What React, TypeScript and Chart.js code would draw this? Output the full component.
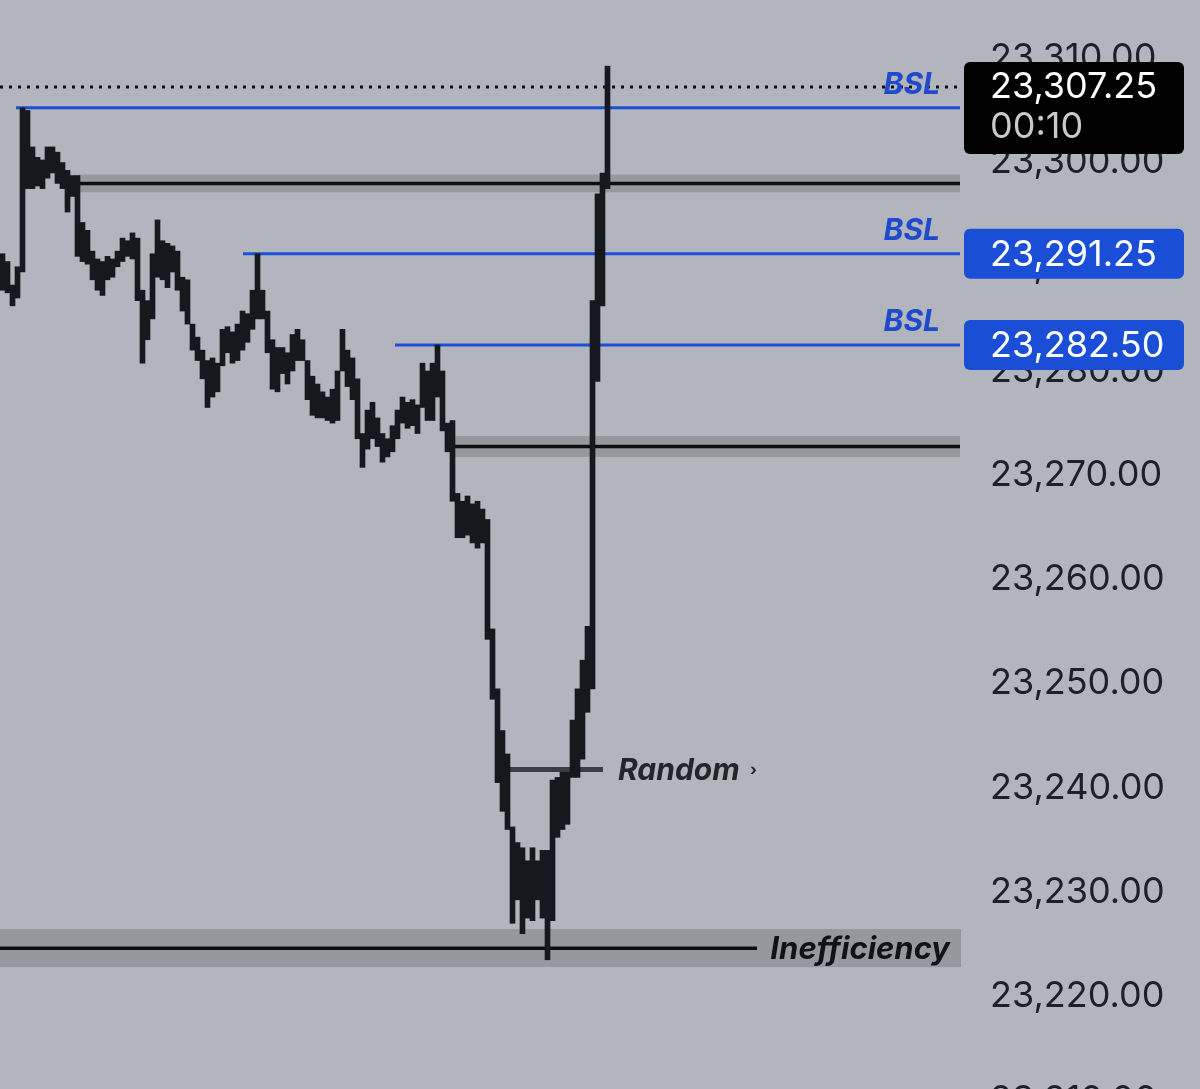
import React, { useEffect, useRef } from 'react';
import { Chart, registerables } from 'chart.js';

Chart.register(...registerables);

// ---------- data ----------
const BAR_COUNT = 192; // slots across the plot (price path fills the first ones)

const HIGHS = [
  23291.25, 23290.5, 23288.25, 23290, 23305.25, 23305, 23301.5, 23300.5, 23300.25, 23301.5,
  23301.5, 23301, 23300, 23299.25, 23298.75, 23298.75, 23294.25, 23293.5, 23291.5, 23290.75,
  23290.5, 23291, 23290.75, 23291.5, 23292.75, 23292.5, 23293.25, 23292.75, 23287.75, 23286.75,
  23291.25, 23294.5, 23292.5, 23292.25, 23292, 23291.5, 23289, 23288.75, 23284.5, 23283.25,
  23282, 23281, 23281.25, 23280.75, 23284, 23284.25, 23283.75, 23284.5, 23285.75, 23285.5,
  23287.75, 23291.25, 23287.75, 23285.75, 23283, 23282.25, 23282.25, 23281.75, 23283.5, 23284,
  23283, 23281, 23279.5, 23278.75, 23278, 23277.5, 23278.25, 23280, 23284, 23282,
  23281.25, 23279.25, 23274, 23276.25, 23277, 23275.5, 23274, 23273.5, 23274.75, 23276.25,
  23277.5, 23277, 23277.25, 23276.75, 23280.75, 23280, 23280.75, 23282.5, 23280, 23275,
  23275.25, 23268.25, 23267.5, 23268, 23267.25, 23267.5, 23266.75, 23265.75, 23255.25, 23249.5,
  23245.5, 23243.25, 23236.25, 23234.75, 23234.25, 23233, 23234.25, 23233, 23234, 23234,
  23240.75, 23241, 23241.5, 23241.5, 23246.5, 23249.5, 23252.25, 23255.5, 23286.75, 23297,
  23299, 23309.25,
];

const LOWS = [
  23287.75, 23287.5, 23286.25, 23287, 23289.5, 23297.5, 23297.5, 23297.75, 23297.5, 23298.5,
  23299, 23298, 23297.5, 23295.25, 23296.75, 23291, 23290.5, 23290.25, 23288.75, 23287.75,
  23287.25, 23288.75, 23289, 23290, 23290.5, 23291, 23290.75, 23286.75, 23280.75, 23283,
  23285, 23289, 23288.75, 23288, 23289.5, 23287.75, 23285.75, 23284.5, 23282, 23281,
  23279.25, 23276.5, 23277.5, 23278, 23280.5, 23281.75, 23280.75, 23281, 23282, 23282.75,
  23284, 23285, 23285, 23281.75, 23278.25, 23278, 23279.75, 23278.75, 23280, 23281,
  23281, 23277.25, 23275.75, 23275.5, 23275.5, 23275.25, 23275, 23275.25, 23280, 23278.5,
  23277.25, 23273.5, 23270.75, 23272.5, 23273.5, 23272.75, 23271.25, 23271.75, 23272.25, 23273.5,
  23275, 23274.5, 23274.75, 23274, 23276.5, 23275.25, 23275.25, 23277.5, 23274.25, 23272.25,
  23267.5, 23264, 23264, 23264.25, 23263.5, 23263, 23263.5, 23254.25, 23248.5, 23240.5,
  23237.75, 23236, 23227, 23229.25, 23226, 23227.5, 23227.25, 23229.25, 23227.5, 23223.5,
  23227.25, 23235.25, 23236, 23236.5, 23241, 23241, 23242.75, 23247.25, 23249.5, 23279,
  23286.25, 23297.5,
];

const Y_TICKS = [23210, 23220, 23230, 23240, 23250, 23260, 23270, 23280, 23290, 23300, 23310];
const Y_MIN = 23211.1;
const Y_MAX = 23315.6;

const CURRENT_PRICE = 23307.25;
const CURRENT_TIMER = '00:10';

const BSL_PRICES = [23305.25, 23291.25, 23282.5];
const BSL_START = [2.7, 48.1, 78.5];
const BSL_TAGGED = [false, true, true];

const ZONE_PRICES = [23298, 23272.75];
const ZONE_HALF = [0.85, 1.0];
const ZONE_START = [15, 90.5];

const RANDOM_PRICE = 23241.75;
const RANDOM_RANGE = [98.9, 120.1];

const INEFF_PRICE = 23224.6;
const INEFF_BAND = [23222.8, 23226.45];
const INEFF_LINE_END = 150.9;

// ---------- styles ----------
const BG = '#b2b5bd';
const CANDLE = '#16181e';
const BLUE = '#1b4fd8';
const BLUE_TEXT = '#1f4acb';
const BAND = '#97989d';
const AXIS_TEXT = '#1d2029';
const FONT = 'Inter, "Noto Sans", sans-serif';

const fmt = (v: number) =>
  v.toLocaleString('en-US', { minimumFractionDigits: 2, maximumFractionDigits: 2 });

const drawingsPlugin = {
  id: 'drawings',
  beforeDraw(chart: any) {
    const { ctx, width, height } = chart;
    ctx.save();
    ctx.fillStyle = BG;
    ctx.fillRect(0, 0, width, height);
    ctx.restore();
  },
  beforeDatasetsDraw(chart: any) {
    const { ctx, chartArea } = chart;
    const xs = chart.scales.x;
    const ys = chart.scales.y;
    const L = chartArea.left;
    const R = chartArea.right;
    const px = (i: number) => xs.getPixelForValue(i);
    const py = (v: number) => ys.getPixelForValue(v);
    ctx.save();

    // inefficiency band
    ctx.fillStyle = BAND;
    const it = py(INEFF_BAND[1]);
    const ib = py(INEFF_BAND[0]);
    ctx.fillRect(L, it, R - L + 1, ib - it);
    ctx.strokeStyle = '#0d0e11';
    ctx.lineWidth = 3.5;
    ctx.beginPath();
    ctx.moveTo(L, py(INEFF_PRICE));
    ctx.lineTo(px(INEFF_LINE_END), py(INEFF_PRICE));
    ctx.stroke();
    ctx.fillStyle = '#111217';
    ctx.font = `italic 700 31px ${FONT}`;
    ctx.textAlign = 'right';
    ctx.textBaseline = 'middle';
    ctx.fillText('Inefficiency', R - 10, py(INEFF_PRICE) + 1);

    // zones
    ZONE_PRICES.forEach((p, k) => {
      const x0 = px(ZONE_START[k]);
      const t = py(p + ZONE_HALF[k]);
      const b = py(p - ZONE_HALF[k]);
      ctx.fillStyle = BAND;
      ctx.fillRect(x0, t, R - x0, b - t);
      ctx.strokeStyle = '#0d0e11';
      ctx.lineWidth = 3.5;
      ctx.beginPath();
      ctx.moveTo(x0, py(p));
      ctx.lineTo(R, py(p));
      ctx.stroke();
    });

    // random level
    ctx.strokeStyle = '#3a3d46';
    ctx.lineWidth = 5;
    ctx.beginPath();
    ctx.moveTo(px(RANDOM_RANGE[0]), py(RANDOM_PRICE));
    ctx.lineTo(px(RANDOM_RANGE[1]), py(RANDOM_PRICE));
    ctx.stroke();
    ctx.fillStyle = '#22252c';
    ctx.font = `italic 700 30px ${FONT}`;
    ctx.textAlign = 'left';
    ctx.textBaseline = 'middle';
    ctx.fillText('Random', px(RANDOM_RANGE[1]) + 15, py(RANDOM_PRICE) + 1);
    ctx.font = `700 16px ${FONT}`;
    ctx.fillText('›', px(RANDOM_RANGE[1]) + 147, py(RANDOM_PRICE) + 1);

    // current price dotted line
    ctx.strokeStyle = '#0d0e11';
    ctx.lineWidth = 3;
    ctx.setLineDash([3, 6]);
    ctx.beginPath();
    ctx.moveTo(L, py(CURRENT_PRICE));
    ctx.lineTo(R, py(CURRENT_PRICE));
    ctx.stroke();
    ctx.setLineDash([]);

    // BSL lines
    BSL_PRICES.forEach((p, k) => {
      ctx.strokeStyle = BLUE;
      ctx.lineWidth = 3;
      ctx.beginPath();
      ctx.moveTo(px(BSL_START[k]), py(p));
      ctx.lineTo(R, py(p));
      ctx.stroke();
      ctx.fillStyle = BLUE_TEXT;
      ctx.font = `italic 700 30px ${FONT}`;
      ctx.textAlign = 'right';
      ctx.textBaseline = 'alphabetic';
      ctx.fillText('BSL', R - 20, py(p) - 14);
    });
    ctx.restore();
  },
  afterDraw(chart: any) {
    const { ctx, chartArea } = chart;
    const ys = chart.scales.y;
    const bx = chartArea.right + 4;
    const bw = 220;
    ctx.save();
    ctx.font = `36px ${FONT}`;
    ctx.textAlign = 'left';
    ctx.textBaseline = 'middle';

    // current price tag
    const cy = ys.getPixelForValue(CURRENT_PRICE);
    ctx.fillStyle = '#000000';
    ctx.beginPath();
    ctx.roundRect(bx, cy - 25, bw, 92, 6);
    ctx.fill();
    ctx.fillStyle = '#ffffff';
    ctx.fillText(fmt(CURRENT_PRICE), bx + 26, cy);
    ctx.fillStyle = '#c9c9c9';
    ctx.fillText(CURRENT_TIMER, bx + 26, cy + 40);

    // BSL tags
    BSL_PRICES.forEach((p, k) => {
      if (!BSL_TAGGED[k]) return;
      const y = ys.getPixelForValue(p);
      ctx.fillStyle = '#1a4ed6';
      ctx.beginPath();
      ctx.roundRect(bx, y - 25, bw, 50, 6);
      ctx.fill();
      ctx.fillStyle = '#ffffff';
      ctx.fillText(fmt(p), bx + 26, y + 1);
    });
    ctx.restore();
  },
};

export default function App() {
  const ref = useRef<HTMLCanvasElement | null>(null);

  useEffect(() => {
    document.body.style.margin = '0';
    document.body.style.background = BG;
    const canvas = ref.current;
    if (!canvas) return;
    const labels = Array.from({ length: BAR_COUNT }, (_, i) => String(i));
    const data = labels.map((_, i) => (i < HIGHS.length ? [LOWS[i], HIGHS[i]] : null));

    const chart = new Chart(canvas, {
      type: 'bar',
      data: {
        labels,
        datasets: [
          {
            label: 'Price',
            data: data as any,
            backgroundColor: CANDLE,
            borderWidth: 0,
            borderSkipped: false,
            barPercentage: 1,
            categoryPercentage: 1,
          },
        ],
      },
      options: {
        responsive: false,
        animation: false,
        devicePixelRatio: 1,
        layout: { padding: 0 },
        plugins: { legend: { display: false }, tooltip: { enabled: false } },
        scales: {
          x: {
            type: 'category',
            display: false,
            grid: { display: false },
            offset: true,
          },
          y: {
            position: 'right',
            min: Y_MIN,
            max: Y_MAX,
            grid: { display: false, drawTicks: false },
            border: { display: false },
            afterBuildTicks: (scale: any) => {
              scale.ticks = Y_TICKS.map((value) => ({ value }));
            },
            afterFit: (scale: any) => {
              scale.width = 240;
              scale.paddingTop = 0;
              scale.paddingBottom = 0;
            },
            ticks: {
              autoSkip: false,
              padding: 30,
              color: AXIS_TEXT,
              font: { family: FONT, size: 36 },
              callback: (v: any) => fmt(Number(v)),
            },
          },
        },
      },
      plugins: [drawingsPlugin],
    });
    return () => chart.destroy();
  }, []);

  return (
    <div style={{ width: 1200, height: 1089, overflow: 'hidden', background: BG }}>
      <canvas ref={ref} width={1200} height={1089} style={{ display: 'block', width: 1200, height: 1089 }} />
    </div>
  );
}
